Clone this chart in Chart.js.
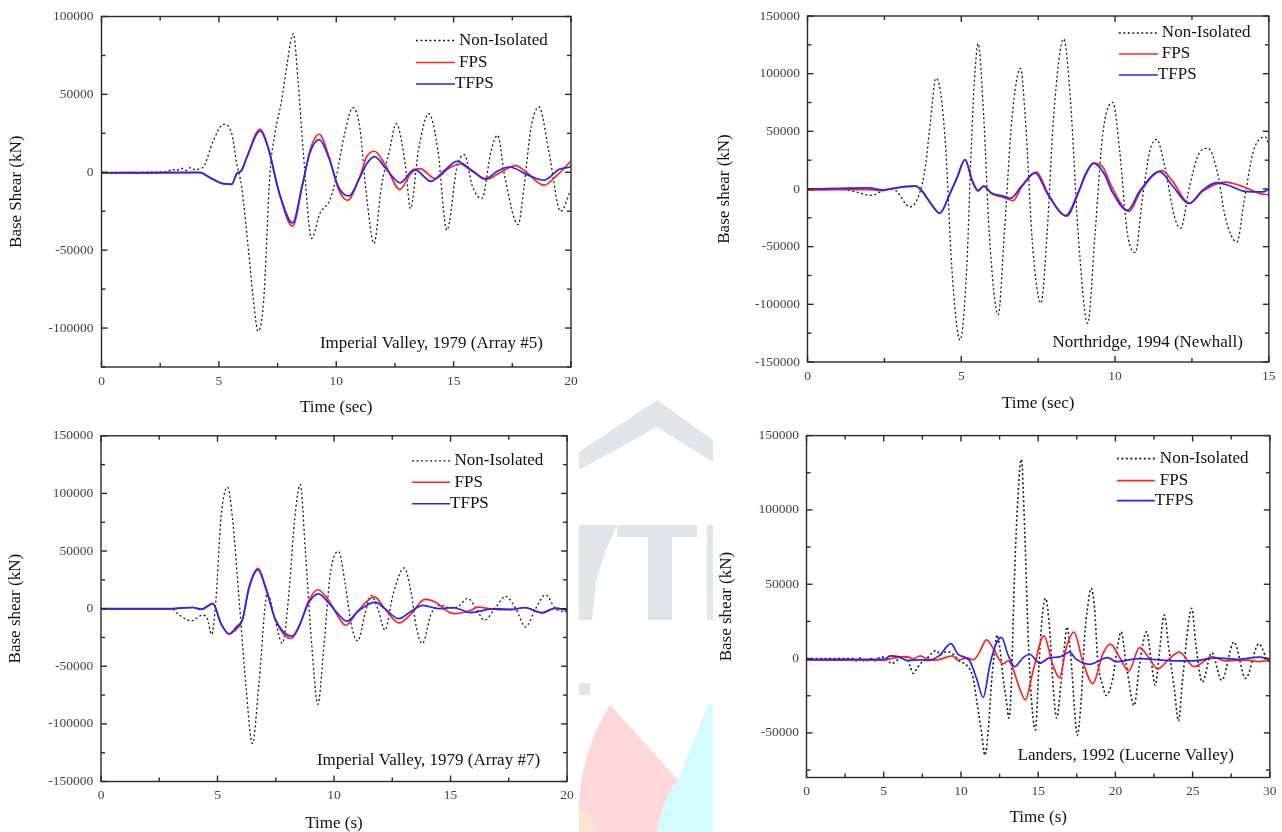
<!DOCTYPE html>
<html>
<head>
<meta charset="utf-8">
<script src="https://cdn.jsdelivr.net/npm/chart.js@4.4.1/dist/chart.umd.min.js"></script>
<style>
  html, body { margin: 0; padding: 0; background: #ffffff; }
  body { width: 1282px; height: 832px; position: relative; overflow: hidden; }
  canvas { position: absolute; }
  #wm { position: absolute; left: 0; top: 0; }
</style>
</head>
<body>
<svg id="wm" width="1282" height="832" xmlns="http://www.w3.org/2000/svg">
  <polygon points="579,452 657,400 713,440 713,462 657,427 579,470" fill="#dfe5e8"/>
  <polygon points="579,525 617,525 605,552 596,582 592,620 579,620" fill="#dfe5e8"/>
  <polygon points="617,525 697,525 697,537 672,537 672,620 648,620 648,537 617,537" fill="#dfe5e8"/>
  <rect x="707" y="525" width="6" height="95" fill="#dfe5e8"/>
  <rect x="579" y="683" width="11" height="12" fill="#dfe5e8"/>
  <path d="M610,705 L678,780 Q662,800 657,832 L579,832 L579,800 Q584,745 610,705 Z" fill="#fdd7d9"/>
  <path d="M678,780 L707,707 L713,703 L713,832 L657,832 Q662,800 678,780 Z" fill="#d4fbfc"/>
  <path d="M579,806 L600,832 L579,832 Z" fill="#fde6cf"/>
</svg>
<canvas id="c1" width="600" height="420" style="left:0px;top:0px;"></canvas>
<canvas id="c2" width="582" height="420" style="left:700px;top:0px;"></canvas>
<canvas id="c3" width="580" height="412" style="left:0px;top:420px;"></canvas>
<canvas id="c4" width="582" height="412" style="left:700px;top:420px;"></canvas>
<script>
// ---------------- DATA ----------------
// Panel 1: Imperial Valley, 1979 (Array #5)
const iv5NonIsoT = [0, 1.5, 2.8, 3.0, 3.2, 3.4, 3.6, 3.8, 4.0, 4.2, 4.34, 4.77, 5.2, 5.55, 5.76, 5.97, 6.26, 6.47, 6.67, 6.9, 7.18, 7.39, 7.67, 7.88, 8.17, 8.38, 8.59, 8.95, 9.3, 9.72, 10.0, 10.36, 10.71, 11.0, 11.28, 11.61, 11.92, 12.27, 12.55, 12.95, 13.16, 13.5, 13.94, 14.33, 14.71, 15.15, 15.46, 15.8, 16.2, 16.6, 16.87, 17.18, 17.75, 18.0, 18.3, 18.64, 19.05, 19.56, 20.0];
const iv5NonIsoV = [0, 0, 300, 2000, 1200, 2600, 1200, 3000, 1500, 2500, 3400, 20500, 30800, 24800, 5700, -9400, -50000, -82000, -102000, -84000, 0, 25000, 46000, 67000, 89000, 57000, 14000, -42500, -26500, -18000, -3000, 25000, 41500, 29000, -13600, -45700, -9400, 14000, 31200, 4000, -23300, 14000, 37600, 14000, -37200, 4000, 11300, -9000, -16900, 14000, 23700, -3000, -33500, -9000, 29000, 41900, 14000, -25000, -11000];
const iv5FpsT = [0, 2, 4.2, 4.5, 4.8, 5.1, 5.35, 5.55, 5.76, 5.97, 6.19, 6.75, 7.1, 7.57, 8.14, 8.55, 8.88, 9.27, 9.69, 10.1, 10.48, 11.0, 11.3, 11.63, 12.13, 12.7, 13.19, 13.57, 14.22, 14.8, 15.24, 15.8, 16.38, 17.0, 17.65, 18.1, 18.85, 19.4, 20.0];
const iv5FpsV = [-600, -500, -300, -2500, -5000, -7000, -7600, -7900, -900, 1300, 9800, 27500, 16000, -13500, -34600, -9000, 14000, 24400, 10000, -11000, -18000, -3000, 10000, 13500, 3600, -11000, -600, 2400, -4000, 2500, 5300, 500, -4700, 0, 4300, 0, -8300, -2000, 7200];
const iv5TfpsT = [0, 2, 4.2, 4.5, 4.8, 5.1, 5.35, 5.55, 5.76, 5.97, 6.19, 6.76, 7.1, 7.57, 8.14, 8.55, 8.88, 9.28, 9.69, 10.1, 10.54, 11.0, 11.3, 11.63, 12.13, 12.72, 13.33, 14.04, 14.6, 15.15, 15.8, 16.35, 16.9, 17.37, 18.2, 18.85, 19.5, 20.0];
const iv5TfpsV = [-300, -200, 0, -2300, -4800, -7000, -7500, -7600, -800, 1200, 9500, 26500, 15500, -13000, -32500, -8500, 12500, 21000, 9000, -9500, -15200, -3500, 5500, 10000, 2000, -6800, 1900, -5800, 1000, 7000, 1000, -4100, 1000, 3400, -2000, -5100, 1900, 3400];

// Panel 2: Northridge, 1994 (Newhall)
const nhNonIsoT = [0, 1, 1.5, 2.05, 2.66, 2.85, 3.34, 3.64, 3.83, 4.01, 4.17, 4.32, 4.5, 4.69, 4.96, 5.18, 5.3, 5.42, 5.55, 5.73, 5.91, 6.2, 6.4, 6.65, 6.93, 7.08, 7.33, 7.59, 7.79, 8.0, 8.33, 8.55, 8.8, 9.11, 9.35, 9.6, 9.93, 10.15, 10.4, 10.66, 10.88, 11.13, 11.35, 11.62, 11.93, 12.13, 12.42, 12.72, 13.02, 13.34, 13.58, 13.96, 14.2, 14.5, 14.9, 15];
const nhNonIsoV = [0, 0, -2000, -5500, 0, -1000, -15500, -4000, 19000, 62000, 96000, 85000, 33000, -67500, -131000, -67500, 19000, 91000, 126000, 62000, -38500, -109000, -38500, 62000, 104600, 62000, -53000, -99000, -38500, 62000, 130000, 77000, -38500, -116500, -38500, 48000, 75000, 33000, -38500, -55000, -10000, 33000, 43000, 19000, -24000, -34000, 2000, 30500, 35300, 13000, -24000, -46000, -10000, 33000, 45000, 38000];
const nhFpsT = [0, 1, 2, 2.42, 2.78, 3.15, 3.52, 3.7, 4.01, 4.3, 4.63, 4.87, 5.12, 5.36, 5.55, 5.73, 5.98, 6.34, 6.69, 6.96, 7.45, 7.82, 8.43, 8.8, 9.04, 9.31, 9.6, 9.9, 10.45, 10.82, 11.53, 11.86, 12.42, 12.85, 13.58, 14.2, 14.7, 15];
const nhFpsV = [-1000, -500, -600, -1500, 500, 2000, 2500, -1000, -12500, -21000, -4000, 10000, 25500, 7500, -1000, 2500, -4000, -7000, -10000, 1700, 14700, -4000, -23500, -4000, 12000, 22500, 19000, 1700, -19500, -2500, 16000, 7000, -12500, -2000, 6000, 1700, -4000, -5000];
const nhTfpsT = [0, 1, 2, 2.42, 2.78, 3.15, 3.52, 3.7, 4.01, 4.3, 4.63, 4.87, 5.12, 5.36, 5.55, 5.73, 5.98, 6.34, 6.6, 6.96, 7.4, 7.82, 8.4, 8.8, 9.04, 9.3, 9.65, 9.9, 10.4, 10.82, 11.45, 11.86, 12.4, 12.85, 13.3, 13.7, 14.2, 14.8, 15];
const nhTfpsV = [0, 500, 1000, -800, 500, 2000, 2500, -1000, -12500, -21000, -4000, 10500, 25500, 6500, -1800, 2500, -3500, -6000, -8000, 2500, 14000, -5000, -23000, -3000, 13000, 22500, 13000, -2000, -18500, -1000, 15000, 3000, -12500, -1000, 5500, 3000, -2000, -2500, 0];

// Panel 3: Imperial Valley, 1979 (Array #7)
const iv7NonIsoT = [0, 3.0, 3.37, 3.87, 4.36, 4.55, 4.75, 4.93, 5.15, 5.43, 5.64, 5.93, 6.21, 6.5, 6.78, 7.14, 7.45, 7.78, 8.05, 8.3, 8.55, 8.77, 9.06, 9.31, 9.55, 9.84, 10.19, 10.48, 10.76, 11.02, 11.33, 11.59, 11.9, 12.18, 12.54, 13.01, 13.32, 13.53, 13.79, 14.17, 14.6, 15.0, 15.35, 15.74, 16.1, 16.46, 16.9, 17.37, 17.8, 18.22, 18.65, 19.08, 19.5, 20];
const iv7NonIsoV = [0, 0, -5700, -10600, -5700, -8000, -22400, 7000, 79000, 105500, 79000, 7000, -64700, -117000, -64700, 13000, -8000, -30000, 10000, 75000, 107800, 50000, -36000, -83000, -36000, 30000, 49700, 21500, -15800, -28000, -4300, 11500, -1400, -18700, 12900, 35300, 12900, -15800, -30200, -4300, 3000, 500, 2000, 9000, 0, -10000, 0, 10600, 0, -15800, 0, 12000, 0, -3000];
const iv7FpsT = [0, 3.0, 3.37, 3.94, 4.3, 4.8, 5.15, 5.5, 5.85, 6.07, 6.35, 6.74, 7.07, 7.49, 8.16, 8.5, 8.92, 9.31, 9.77, 10.19, 10.5, 11.05, 11.73, 12.18, 12.79, 13.32, 13.89, 14.46, 14.74, 15.17, 15.88, 16.16, 16.9, 17.6, 18.15, 18.93, 19.43, 20];
const iv7FpsV = [-500, -500, 500, 1000, -500, 4300, -13000, -22000, -17000, -10000, 18700, 35000, 18700, -10000, -25900, -15800, 7200, 16400, 7200, -7200, -14400, -1400, 10300, 0, -12400, -4300, 8000, 4300, -800, -4300, -1400, 1400, -600, -900, 800, -3400, 0, -600];
const iv7TfpsT = [0, 3.0, 3.37, 3.94, 4.3, 4.8, 5.15, 5.5, 5.85, 6.07, 6.35, 6.74, 7.07, 7.49, 8.2, 8.5, 8.92, 9.34, 9.77, 10.19, 10.55, 11.05, 11.77, 12.18, 12.77, 13.3, 13.8, 14.5, 15.1, 15.86, 16.9, 17.6, 18.2, 18.93, 19.5, 20];
const iv7TfpsV = [0, 0, 500, 1000, -500, 4300, -13000, -22000, -15000, -9500, 17500, 33600, 17500, -9500, -23800, -15000, 5500, 12900, 5000, -5000, -10900, -2000, 5700, 0, -8600, -2500, 2900, 0, 900, -3400, 0, -700, 1000, -3700, 500, -1400];

// Panel 4: Landers, 1992 (Lucerne Valley)
const lvNonIsoT = [0, 3.0, 3.2, 3.5, 3.8, 4.1, 4.4, 4.8, 5.2, 5.5, 5.9, 6.4, 6.7, 6.9, 7.2, 7.5, 7.8, 8.1, 8.4, 8.65, 9.07, 9.5, 9.93, 10.36, 10.79, 11.0, 11.33, 11.55, 11.76, 11.98, 12.2, 12.34, 12.52, 12.73, 12.95, 13.1, 13.27, 13.42, 13.63, 13.91, 14.13, 14.34, 14.56, 14.82, 15.05, 15.27, 15.48, 15.74, 15.95, 16.2, 16.49, 16.71, 16.86, 17.14, 17.35, 17.53, 17.79, 18.0, 18.22, 18.43, 18.65, 18.86, 19.18, 19.4, 19.83, 20.15, 20.37, 20.69, 21.22, 21.55, 22.02, 22.3, 22.58, 22.84, 23.16, 23.48, 23.81, 24.09, 24.34, 24.95, 25.2, 25.63, 26.24, 26.88, 27.68, 28.43, 29.29, 29.94, 30];
const lvNonIsoV = [0, 0, -1500, 500, -2000, 0, -1500, 1000, 0, -3500, -1000, 1000, -5000, -10000, -6000, -2000, 0, 3500, 5500, 2500, 4700, 3000, -2000, -4300, -13300, -27000, -49500, -65000, -49500, -15800, 6800, 15800, 6800, -13300, -29000, -40000, -15800, 40500, 96800, 134000, 85500, 18000, -27000, -48000, -4300, 29300, 40500, 20000, -15800, -40000, -15000, 9000, 21400, -2000, -33700, -51700, -27000, 13500, 36000, 47300, 33800, -2000, -18000, -24800, -13300, 9000, 18000, -3000, -31500, -5000, 18000, 0, -18000, 3000, 29300, 5000, -20000, -42000, -15000, 33800, 10000, -15800, 4000, -14600, 11200, -13300, 10000, -2000, -1500];
const lvFpsT = [0, 5, 5.67, 6.5, 6.9, 7.37, 7.74, 8.35, 8.8, 9.45, 9.8, 10.4, 10.8, 11.22, 11.65, 12.08, 12.73, 13.05, 13.27, 13.8, 14.17, 14.66, 15.37, 15.95, 16.38, 16.81, 17.31, 17.89, 18.54, 19.18, 19.68, 20.26, 20.87, 21.56, 22.2, 22.74, 23.4, 24.14, 25.1, 25.85, 26.2, 27.1, 28.6, 29.25, 30];
const lvFpsV = [-1000, -1000, 500, 1300, -200, 1800, 0, -1000, 0, 1800, -1000, 500, -900, 4700, 12600, 7000, -3600, -1500, -4300, -20000, -27800, -8800, 15300, -4300, -12800, 7000, 17800, -2000, -16700, 3000, 9700, 1000, -8300, 7400, 0, -7000, -1000, 4300, -5400, -1000, 1400, -1500, -1000, -2000, -1000];
const lvTfpsT = [0, 5, 5.43, 6.0, 6.5, 7.37, 7.86, 8.6, 9.35, 9.8, 10.37, 10.58, 11.01, 11.44, 11.87, 12.26, 12.62, 13.05, 13.48, 14.0, 14.45, 15.09, 15.73, 16.38, 17.03, 17.46, 18.32, 19.5, 20.04, 21.56, 23.7, 25.0, 26.5, 28.0, 29.3, 30];
const lvTfpsV = [-500, -500, 1800, 1200, -1300, -900, -1300, 2000, 10000, 3000, 200, -1800, -13300, -26100, -4300, 9500, 14200, 2500, -5400, 300, 2900, -3100, 500, 1100, 4300, -400, -3800, 700, -2000, 0, -1500, -1500, 500, -500, 1000, -500];

// Tick values
const xTicks20 = [0, 5, 10, 15, 20];
const xMinor20 = [2.5, 7.5, 12.5, 17.5];
const xTicks15 = [0, 5, 10, 15];
const xMinor15 = [2.5, 7.5, 12.5];
const xTicks30 = [0, 5, 10, 15, 20, 25, 30];
const xMinor30 = [2.5, 7.5, 12.5, 17.5, 22.5, 27.5];
const yTicksP1 = [-100000, -50000, 0, 50000, 100000];
const yMinorP1 = [-125000, -75000, -25000, 25000, 75000];
const yTicks150 = [-150000, -100000, -50000, 0, 50000, 100000, 150000];
const yMinor150 = [-125000, -75000, -25000, 25000, 75000, 125000];
const yTicksP4 = [-50000, 0, 50000, 100000, 150000];
const yMinorP4 = [-75000, -25000, 25000, 75000, 125000];

const seriesNames = ['Non-Isolated', 'FPS', 'TFPS'];
const notes = ['Imperial Valley, 1979 (Array #5)', 'Northridge, 1994 (Newhall)', 'Imperial Valley, 1979 (Array #7)', 'Landers, 1992 (Lucerne Valley)'];

// ---------------- RENDERING ----------------
const SERIF = '"Liberation Serif", "Times New Roman", serif';
const toPts = (t, v) => t.map((ti, i) => ({ x: ti, y: v[i] }));

const framePlugin = {
  id: 'frame',
  afterDatasetsDraw(chart, args, o) {
    const { ctx, chartArea: a, scales: { x, y } } = chart;
    ctx.save();
    ctx.strokeStyle = '#2a2a2a';
    ctx.lineWidth = 1.4;
    ctx.setLineDash([]);
    const seg = (x1, y1, x2, y2) => { ctx.beginPath(); ctx.moveTo(x1, y1); ctx.lineTo(x2, y2); ctx.stroke(); };
    const xt = (vals, len) => vals.forEach(v => { const p = x.getPixelForValue(v); seg(p, a.bottom, p, a.bottom - len); seg(p, a.top, p, a.top + len); });
    const yt = (vals, len) => vals.forEach(v => { const p = y.getPixelForValue(v); seg(a.left, p, a.left + len, p); seg(a.right, p, a.right - len, p); });
    xt(o.xMajor, 6); xt(o.xMinor, 4);
    yt(o.yMajor, 6); yt(o.yMinor, 4);
    ctx.strokeRect(a.left, a.top, a.right - a.left, a.bottom - a.top);
    ctx.restore();
  }
};

const decoPlugin = {
  id: 'deco',
  afterDraw(chart, args, o) {
    const { ctx, chartArea: a } = chart;
    ctx.save();
    ctx.font = '17px ' + SERIF;
    ctx.textBaseline = 'middle';
    ctx.fillStyle = '#111';
    chart.data.datasets.forEach((ds, i) => {
      const yy = a.top + o.rows[i];
      ctx.strokeStyle = ds.borderColor;
      ctx.lineWidth = Math.min(ds.borderWidth, 1.6);
      ctx.setLineDash(ds.borderDash || []);
      ctx.beginPath(); ctx.moveTo(a.right + o.lx0, yy); ctx.lineTo(a.right + o.lx1, yy); ctx.stroke();
      ctx.textAlign = 'left';
      ctx.fillText(ds.label, a.right + o.tx[i], yy);
    });
    ctx.setLineDash([]);
    ctx.textAlign = 'right';
    ctx.fillText(o.note, a.right - o.noteDx, a.bottom - o.noteDy);
    ctx.restore();
  }
};

function makeChart(p) {
  const datasets = [
    { label: seriesNames[0], data: toPts(p.s[0], p.s[1]), borderColor: '#1a1a1a', borderWidth: p.dotW, borderDash: [2, 2.5], order: 3 },
    { label: seriesNames[1], data: toPts(p.s[2], p.s[3]), borderColor: '#ff2424', borderWidth: 1.7, order: 2 },
    { label: seriesNames[2], data: toPts(p.s[4], p.s[5]), borderColor: '#2424ff', borderWidth: 1.7, order: 1 }
  ].map(d => Object.assign(d, { pointRadius: 0, fill: false, cubicInterpolationMode: 'monotone', tension: 0.4 }));

  new Chart(document.getElementById(p.id), {
    type: 'line',
    data: { datasets },
    plugins: [framePlugin, decoPlugin],
    options: {
      responsive: false,
      animation: false,
      devicePixelRatio: 1,
      layout: { padding: { left: 0, right: p.padR, top: p.padT, bottom: 0 } },
      plugins: {
        legend: { display: false },
        tooltip: { enabled: false },
        frame: { xMajor: p.xTicks, xMinor: p.xMinor, yMajor: p.yTicks, yMinor: p.yMinor },
        deco: p.deco
      },
      scales: {
        x: {
          type: 'linear', position: 'bottom', min: p.xMin, max: p.xMax,
          grid: { display: false, drawTicks: false },
          border: { display: false },
          afterBuildTicks: s => { s.ticks = p.xTicks.map(v => ({ value: v })); },
          afterFit: s => { s.height = p.xH; },
          ticks: { autoSkip: false, maxRotation: 0, padding: p.xLabPad, color: '#444', font: { family: SERIF, size: 13.5 }, callback: v => String(v) },
          title: { display: true, text: p.xTitle, color: '#111', font: { family: SERIF, size: 17, lineHeight: 1 }, padding: { top: 0, bottom: p.xTitlePad } }
        },
        y: {
          type: 'linear', position: 'left', min: p.yMin, max: p.yMax,
          grid: { display: false, drawTicks: false },
          border: { display: false },
          afterBuildTicks: s => { s.ticks = p.yTicks.map(v => ({ value: v })); },
          afterFit: s => { s.width = p.yW; },
          ticks: { autoSkip: false, padding: p.yLabPad, color: '#444', font: { family: SERIF, size: 13.5 }, callback: v => String(v) },
          title: { display: true, text: p.yTitle, color: '#111', font: { family: SERIF, size: 17, lineHeight: 1 }, padding: { top: p.yTitlePad, bottom: 0 } }
        }
      }
    }
  });
}

makeChart({
  id: 'c1', yW: 101.5, padR: 29, padT: 16.5, xH: 53, dotW: 1.3,
  xMin: 0, xMax: 20, yMin: -125000, yMax: 100000,
  xTicks: xTicks20, xMinor: xMinor20, yTicks: yTicksP1, yMinor: yMinorP1,
  xTitle: 'Time (sec)', yTitle: 'Base Shear (kN)',
  xLabPad: 6.4, yLabPad: 8, xTitlePad: 3.5, yTitlePad: 8.1,
  s: [iv5NonIsoT, iv5NonIsoV, iv5FpsT, iv5FpsV, iv5TfpsT, iv5TfpsV],
  deco: { lx0: -155, lx1: -116, tx: [-112, -112, -116], rows: [24, 46, 67.5], note: notes[0], noteDx: 28, noteDy: 23 }
});
makeChart({
  id: 'c2', yW: 107.5, padR: 13, padT: 16, xH: 58, dotW: 1.3,
  xMin: 0, xMax: 15, yMin: -150000, yMax: 150000,
  xTicks: xTicks15, xMinor: xMinor15, yTicks: yTicks150, yMinor: yMinor150,
  xTitle: 'Time (sec)', yTitle: 'Base shear (kN)',
  xLabPad: 6.4, yLabPad: 7.5, xTitlePad: 7.5, yTitlePad: 16.5,
  s: [nhNonIsoT, nhNonIsoV, nhFpsT, nhFpsV, nhTfpsT, nhTfpsV],
  deco: { lx0: -150, lx1: -111, tx: [-107, -107, -111], rows: [17, 38, 59], note: notes[1], noteDx: 26, noteDy: 19 }
});
makeChart({
  id: 'c3', yW: 101, padR: 10, padT: 10, xH: 50.5, dotW: 1.3,
  xMin: 0, xMax: 20, yMin: -150000, yMax: 150000,
  xTicks: xTicks20, xMinor: xMinor20, yTicks: yTicks150, yMinor: yMinor150,
  xTitle: 'Time (s)', yTitle: 'Base shear (kN)',
  xLabPad: 6.2, yLabPad: 7.7, xTitlePad: 0.2, yTitlePad: 7.5,
  s: [iv7NonIsoT, iv7NonIsoV, iv7FpsT, iv7FpsV, iv7TfpsT, iv7TfpsV],
  deco: { lx0: -155, lx1: -117, tx: [-112.5, -112.5, -117], rows: [25, 46.5, 68], note: notes[2], noteDx: 27, noteDy: 21 }
});
makeChart({
  id: 'c4', yW: 106.5, padR: 11, padT: 14, xH: 54.5, dotW: 1.6,
  xMin: 0, xMax: 30, yMin: -80000, yMax: 150000,
  xTicks: xTicks30, xMinor: xMinor30, yTicks: yTicksP4, yMinor: yMinorP4,
  xTitle: 'Time (s)', yTitle: 'Base shear (kN)',
  xLabPad: 5.4, yLabPad: 7.5, xTitlePad: 5.5, yTitlePad: 18.2,
  s: [lvNonIsoT, lvNonIsoV, lvFpsT, lvFpsV, lvTfpsT, lvTfpsV],
  deco: { lx0: -153, lx1: -115, tx: [-110, -110, -115], rows: [23, 45, 65], note: notes[3], noteDx: 36, noteDy: 22 }
});
</script>
</body>
</html>
